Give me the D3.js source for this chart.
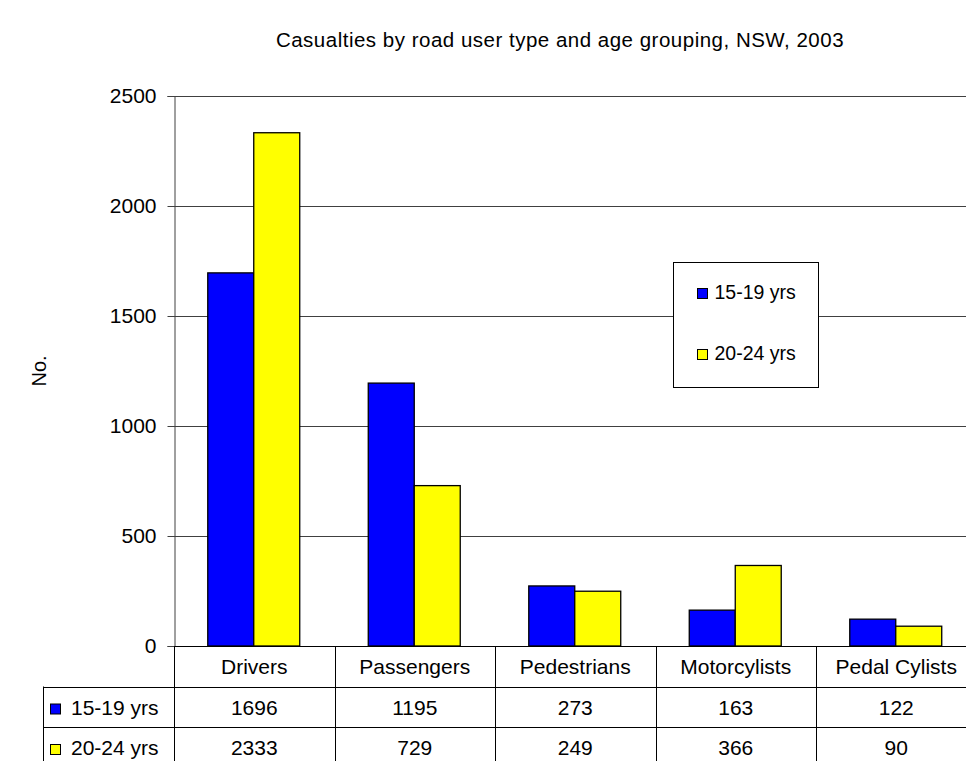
<!DOCTYPE html>
<html>
<head>
<meta charset="utf-8">
<script src="https://cdn.jsdelivr.net/npm/d3@7/dist/d3.min.js"></script>
<style>
  html, body { margin: 0; padding: 0; background: #fff; }
  svg { display: block; font-family: "Liberation Sans", Arial, sans-serif; }
</style>
</head>
<body>
<svg id="chart" width="966" height="761"></svg>
<script>
// Casualties by road user type and age grouping, NSW, 2003
const categories = ["Drivers", "Passengers", "Pedestrians", "Motorcylists", "Pedal Cylists"];
const seriesNames = ["15-19 yrs", "20-24 yrs"];
const youth1519 = [1696, 1195, 273, 163, 122];
const youth2024 = [2333, 729, 249, 366, 90];
const seriesColors = ["#0000ff", "#ffff00"];
const yTicks = [0, 500, 1000, 1500, 2000, 2500];

const seriesValues = [youth1519, youth2024];

const svg = d3.select("#chart");
const plot = { left: 174, right: 976.5, top: 96, bottom: 646 };
const rowH = 40.5;

const x = d3.scaleBand().domain(categories).range([plot.left, plot.right]).paddingInner(0).paddingOuter(0);
const xs = d3.scaleBand().domain(seriesNames).range([0, x.bandwidth()]).paddingInner(0).paddingOuter(0.745);
const y = d3.scaleLinear().domain([0, 2500]).range([plot.bottom, plot.top]);

// title
svg.append("text")
  .attr("x", 560).attr("y", 47)
  .attr("text-anchor", "middle")
  .attr("font-size", 20.5)
  .attr("letter-spacing", 0.5)
  .text("Casualties by road user type and age grouping, NSW, 2003");

// y-axis title
svg.append("text")
  .attr("transform", `translate(46,371) rotate(-90)`)
  .attr("text-anchor", "middle")
  .attr("font-size", 20)
  .text("No.");

// gridlines
svg.append("g")
  .selectAll("line")
  .data(yTicks.filter(d => d > 0))
  .join("line")
  .attr("x1", plot.left).attr("x2", 966)
  .attr("y1", d => Math.round(y(d)) + 0.5).attr("y2", d => Math.round(y(d)) + 0.5)
  .attr("stroke", "#404040").attr("stroke-width", 1);

// y axis
const yAxis = d3.axisLeft(y).tickValues(yTicks).tickSize(7).tickPadding(11).tickFormat(d3.format("d"));
const gy = svg.append("g").attr("transform", `translate(${plot.left + 0.5},0)`).call(yAxis);
gy.select(".domain").attr("stroke", "#404040");
gy.selectAll(".tick line").attr("stroke", "#404040");
gy.selectAll(".tick text").attr("font-size", 21).attr("fill", "#000").attr("font-family", "Liberation Sans, Arial, sans-serif");

// bars
const groups = svg.append("g")
  .selectAll("g")
  .data(categories)
  .join("g")
  .attr("transform", d => `translate(${x(d)},0)`);

groups.selectAll("rect")
  .data((c, i) => seriesNames.map((s, k) => ({ s, v: seriesValues[k][i], k })))
  .join("rect")
  .attr("x", d => xs(d.s) - 0.5)
  .attr("width", xs.bandwidth())
  .attr("y", d => y(d.v))
  .attr("height", d => y(0) - y(d.v))
  .attr("fill", d => seriesColors[d.k])
  .attr("stroke", "#000")
  .attr("stroke-width", 1.3);

// baseline (category axis)
svg.append("line")
  .attr("x1", plot.left).attr("x2", 966)
  .attr("y1", plot.bottom + 0.5).attr("y2", plot.bottom + 0.5)
  .attr("stroke", "#000");

// data table
const table = svg.append("g");
const tableLeft = 43;
const rowTop = i => plot.bottom + rowH * i;

// horizontal rules below header and each series row
[1, 2, 3].forEach(i => {
  table.append("line")
    .attr("x1", tableLeft).attr("x2", 966)
    .attr("y1", Math.round(rowTop(i)) + 0.5).attr("y2", Math.round(rowTop(i)) + 0.5)
    .attr("stroke", "#000");
});
// vertical rules at category boundaries
const bounds = categories.map(c => x(c)).concat([plot.right]);
table.selectAll(".vrule")
  .data(bounds)
  .join("line")
  .attr("x1", d => Math.round(d) + 0.5).attr("x2", d => Math.round(d) + 0.5)
  .attr("y1", plot.bottom).attr("y2", rowTop(3))
  .attr("stroke", "#000");
table.append("line")
  .attr("x1", tableLeft + 0.5).attr("x2", tableLeft + 0.5)
  .attr("y1", rowTop(1)).attr("y2", rowTop(3))
  .attr("stroke", "#000");

// header labels
table.selectAll(".cat")
  .data(categories)
  .join("text")
  .attr("x", d => x(d) + x.bandwidth() / 2)
  .attr("y", rowTop(0) + 28)
  .attr("text-anchor", "middle")
  .attr("font-size", 21)
  .text(d => d);

// series rows
seriesNames.forEach((s, k) => {
  const top = rowTop(k + 1);
  table.append("rect")
    .attr("x", 50.5).attr("y", top + 17.5)
    .attr("width", 10).attr("height", 10)
    .attr("fill", seriesColors[k]).attr("stroke", "#000").attr("stroke-width", 1);
  table.append("text")
    .attr("x", 71).attr("y", top + 28)
    .attr("font-size", 21)
    .text(s);
  table.selectAll(null)
    .data(categories)
    .join("text")
    .attr("x", d => x(d) + x.bandwidth() / 2)
    .attr("y", top + 28)
    .attr("text-anchor", "middle")
    .attr("font-size", 21)
    .text((d, i) => seriesValues[k][i]);
});

// legend
const legend = svg.append("g").attr("transform", "translate(673.5,262.5)");
legend.append("rect")
  .attr("width", 145).attr("height", 125)
  .attr("fill", "#fff").attr("stroke", "#000").attr("stroke-width", 1);
seriesNames.forEach((s, k) => {
  const ly = 26 + k * 61;
  legend.append("rect")
    .attr("x", 24).attr("y", ly)
    .attr("width", 10).attr("height", 10)
    .attr("fill", seriesColors[k]).attr("stroke", "#000").attr("stroke-width", 1);
  legend.append("text")
    .attr("x", 41).attr("y", ly + 10)
    .attr("font-size", 19.5)
    .text(s);
});
</script>
</body>
</html>
